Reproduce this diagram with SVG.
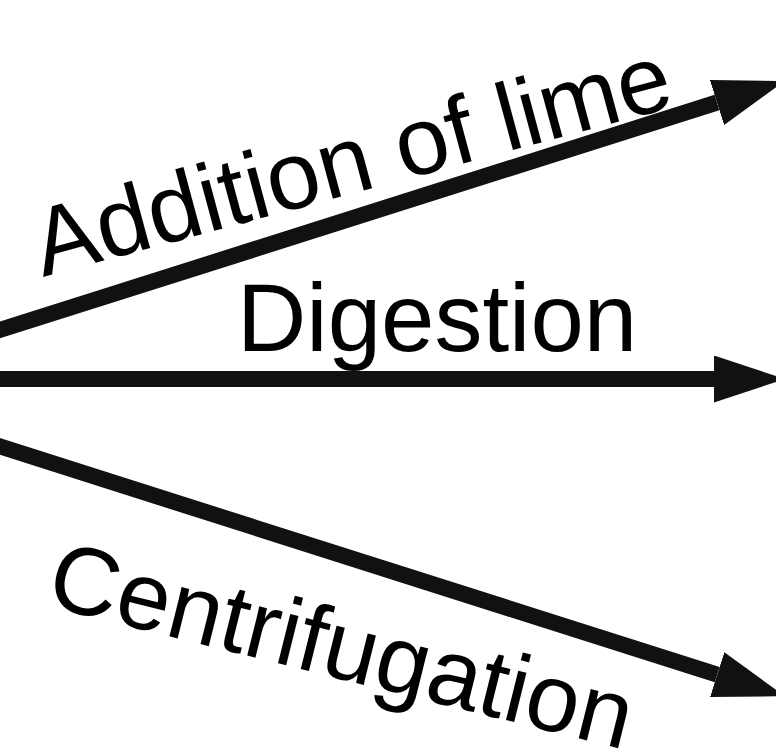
<svg xmlns="http://www.w3.org/2000/svg" width="776" height="755" viewBox="0 0 776 755">
  <style>
    .shaft { stroke: #111111; stroke-width: 16; fill: none; stroke-linecap: butt; }
    .label { font-family: "Liberation Sans", Arial, Helvetica, sans-serif; font-size: 96px; fill: #000000; }
  </style>
  <defs>
    <!-- solid triangular head; refX at the base so the shaft ends where the head begins -->
    <marker id="head" viewBox="0 0 71 47" markerWidth="71" markerHeight="47"
            refX="0" refY="23.5" orient="auto" markerUnits="userSpaceOnUse">
      <path d="M0,0 L71,23.5 L0,47 Z" fill="#111111"/>
    </marker>
  </defs>

  <rect width="776" height="755" fill="#ffffff"/>

  <g id="connectors">
    <line class="shaft" x1="-20" y1="336.3" x2="717" y2="102.5" marker-end="url(#head)"/>
    <line class="shaft" x1="-20" y1="379" x2="714" y2="379" marker-end="url(#head)"/>
    <line class="shaft" x1="-20" y1="440.1" x2="717.2" y2="674.7" marker-end="url(#head)"/>
  </g>

  <g id="addition-of-lime">
    <text class="label" transform="translate(43 277) rotate(-15.1)">Addition of lime</text>
  </g>
  <g id="digestion">
    <text class="label" x="237" y="351">Digestion</text>
  </g>
  <g id="centrifugation">
    <text class="label" transform="translate(44 605) rotate(14)">Centrifugation</text>
  </g>
</svg>
